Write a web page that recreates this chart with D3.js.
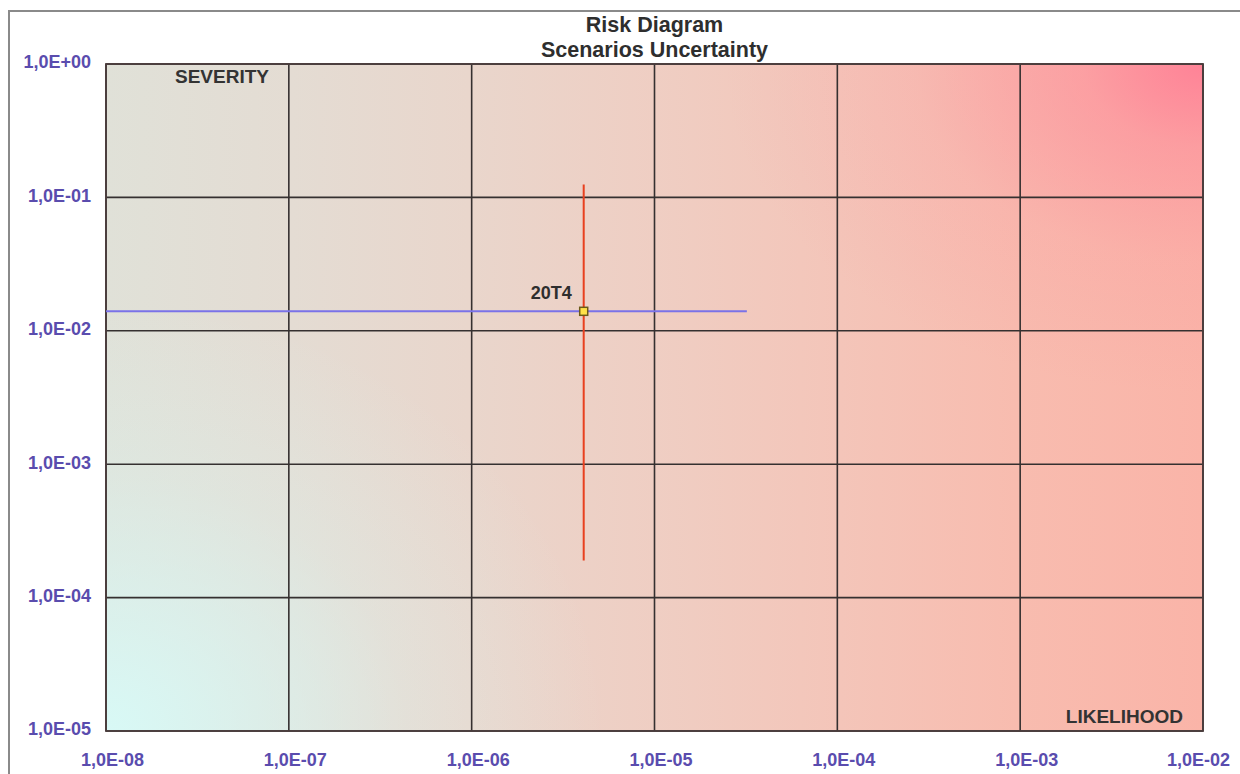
<!DOCTYPE html>
<html>
<head>
<meta charset="utf-8">
<script src="https://cdn.jsdelivr.net/npm/d3@7/dist/d3.min.js"></script>
<style>
  html, body { margin: 0; padding: 0; background: #ffffff; }
  svg { display: block; }
  text { font-family: "Liberation Sans", Arial, Helvetica, sans-serif; font-weight: bold; }
</style>
</head>
<body>
<svg id="chart" width="1240" height="774"></svg>
<script>
// Axis ticks (log decades) and their printed labels
const likelihoodTicks = [1e-8, 1e-7, 1e-6, 1e-5, 1e-4, 1e-3, 1e-2];
const likelihoodTickLabels = ["1,0E-08", "1,0E-07", "1,0E-06", "1,0E-05", "1,0E-04", "1,0E-03", "1,0E-02"];
const severityTicks = [1e0, 1e-1, 1e-2, 1e-3, 1e-4, 1e-5];
const severityTickLabels = ["1,0E+00", "1,0E-01", "1,0E-02", "1,0E-03", "1,0E-04", "1,0E-05"];

// Scenarios: central estimate with uncertainty bounds
const scenarioNames = ["20T4"];
const likelihood = [4.1e-6];
const likelihoodLow = [1e-8];
const likelihoodHigh = [3.2e-5];
const severity = [1.4e-2];
const severityLow = [1.9e-4];
const severityHigh = [1.25e-1];

const titleLines = ["Risk Diagram", "Scenarios Uncertainty"];

const svg = d3.select("#chart");
const W = 1240, H = 774;
const plot = { left: 106, right: 1203, top: 64, bottom: 731 };

const x = d3.scaleLog().domain([1e-8, 1e-2]).range([plot.left, plot.right]);
const y = d3.scaleLog().domain([1e-5, 1e0]).range([plot.bottom, plot.top]);

const defs = svg.append("defs");

// Background: horizontal base ramp plus two corner glows
const base = defs.append("linearGradient").attr("id", "bgBase")
  .attr("x1", 0).attr("x2", 1).attr("y1", 0).attr("y2", 0);
[[0, "#e0e1d8"], [0.17, "#e4dcd3"], [0.33, "#e9d6cc"], [0.5, "#efcec3"],
 [0.67, "#f4c5b9"], [0.83, "#f8bcaf"], [1, "#fab4a8"]]
  .forEach(([o, c]) => base.append("stop").attr("offset", o).attr("stop-color", c));

const cyan = defs.append("radialGradient").attr("id", "bgCyan")
  .attr("gradientUnits", "userSpaceOnUse")
  .attr("cx", 0).attr("cy", 0).attr("r", 1)
  .attr("gradientTransform", `translate(${plot.left},${plot.bottom}) scale(500,430)`);
[[0, 1], [0.3, 0.62], [0.6, 0.25], [1, 0]]
  .forEach(([o, a]) => cyan.append("stop").attr("offset", o)
    .attr("stop-color", "#d8f9f6").attr("stop-opacity", a));

const pink = defs.append("radialGradient").attr("id", "bgPink")
  .attr("gradientUnits", "userSpaceOnUse")
  .attr("cx", 0).attr("cy", 0).attr("r", 1)
  .attr("gradientTransform", `translate(${plot.right},${plot.top}) scale(480,330)`);
[[0, 0.95], [0.25, 0.45], [0.6, 0.12], [1, 0]]
  .forEach(([o, a]) => pink.append("stop").attr("offset", o)
    .attr("stop-color", "#ff8096").attr("stop-opacity", a));

defs.append("clipPath").attr("id", "plotClip").append("rect")
  .attr("x", plot.left).attr("y", plot.top)
  .attr("width", plot.right - plot.left).attr("height", plot.bottom - plot.top);

// Outer frame (left and top edges)
svg.append("path")
  .attr("d", `M9,${H} L9,11 L${W},11`)
  .attr("fill", "none").attr("stroke", "#8a8a8a").attr("stroke-width", 2);

const bg = svg.append("g");
["url(#bgBase)", "url(#bgCyan)", "url(#bgPink)"].forEach(f =>
  bg.append("rect")
    .attr("x", plot.left).attr("y", plot.top)
    .attr("width", plot.right - plot.left).attr("height", plot.bottom - plot.top)
    .attr("fill", f));

// Grid lines at each decade
const grid = svg.append("g").attr("stroke", "#353030").attr("stroke-width", 1.6);
grid.selectAll("line.vx").data(likelihoodTicks).join("line")
  .attr("x1", d => x(d)).attr("x2", d => x(d))
  .attr("y1", plot.top).attr("y2", plot.bottom);
grid.selectAll("line.hy").data(severityTicks).join("line")
  .attr("x1", plot.left).attr("x2", plot.right)
  .attr("y1", d => y(d)).attr("y2", d => y(d));

svg.append("rect")
  .attr("x", plot.left).attr("y", plot.top)
  .attr("width", plot.right - plot.left).attr("height", plot.bottom - plot.top)
  .attr("fill", "none").attr("stroke", "#4a3c3c").attr("stroke-width", 1.8);

// Axes
const tickColor = "#5a4cae";
const yAxis = svg.append("g").attr("transform", `translate(${plot.left},0)`)
  .call(d3.axisLeft(y).tickValues(severityTicks)
    .tickFormat((d, i) => severityTickLabels[i]).tickSize(0).tickPadding(15));
yAxis.select(".domain").remove();
yAxis.selectAll("text")
  .attr("fill", tickColor).attr("font-size", 18)
  .attr("dy", "0.22em");

const xAxis = svg.append("g").attr("transform", `translate(0,${plot.bottom})`)
  .call(d3.axisBottom(x).tickValues(likelihoodTicks)
    .tickFormat((d, i) => likelihoodTickLabels[i]).tickSize(0).tickPadding(22));
xAxis.select(".domain").remove();
xAxis.selectAll("text")
  .attr("fill", tickColor).attr("font-size", 18)
  .attr("dx", 6)
  .each(function () {
    // keep the last label inside the page
    const b = this.getBBox();
    const tr = this.parentNode.getAttribute("transform");
    const tx = +tr.match(/translate\(([-\d.]+)/)[1];
    const over = tx + b.x + b.width + 6 - (W - 4);
    if (over > 0) d3.select(this).attr("dx", 6 - over);
  });
svg.selectAll(".tick line").remove();

// Title
svg.append("text")
  .attr("x", (plot.left + plot.right) / 2).attr("text-anchor", "middle")
  .attr("fill", "#2e2e2e").attr("font-size", 21.5)
  .selectAll("tspan").data(titleLines).join("tspan")
  .attr("x", (plot.left + plot.right) / 2)
  .attr("y", (d, i) => 32 + i * 25)
  .text(d => d);

// Axis names inside the plot
svg.append("text")
  .attr("x", 175).attr("y", 83)
  .attr("fill", "#333333").attr("font-size", 19)
  .text("SEVERITY");
svg.append("text")
  .attr("x", 1183).attr("y", 723).attr("text-anchor", "end")
  .attr("fill", "#333333").attr("font-size", 19)
  .text("LIKELIHOOD");

// Scenario uncertainty bars and marker
const scen = svg.append("g").attr("clip-path", "url(#plotClip)");
const idx = d3.range(scenarioNames.length);
scen.selectAll("line.hbar").data(idx).join("line")
  .attr("x1", i => x(likelihoodLow[i])).attr("x2", i => x(likelihoodHigh[i]))
  .attr("y1", i => y(severity[i])).attr("y2", i => y(severity[i]))
  .attr("stroke", "#7a72e8").attr("stroke-width", 2);
scen.selectAll("line.vbar").data(idx).join("line")
  .attr("x1", i => x(likelihood[i])).attr("x2", i => x(likelihood[i]))
  .attr("y1", i => y(severityHigh[i])).attr("y2", i => y(severityLow[i]))
  .attr("stroke", "#e8401f").attr("stroke-width", 2);
scen.selectAll("rect.pt").data(idx).join("rect")
  .attr("x", i => x(likelihood[i]) - 4).attr("y", i => y(severity[i]) - 4)
  .attr("width", 8).attr("height", 8)
  .attr("fill", "#ffe24a").attr("stroke", "#6b5a1a").attr("stroke-width", 1.5);
svg.selectAll("text.name").data(idx).join("text")
  .attr("x", i => x(likelihood[i]) - 12).attr("y", i => y(severity[i]) - 12)
  .attr("text-anchor", "end").attr("fill", "#2e2e2e").attr("font-size", 18)
  .text(i => scenarioNames[i]);
</script>
</body>
</html>
